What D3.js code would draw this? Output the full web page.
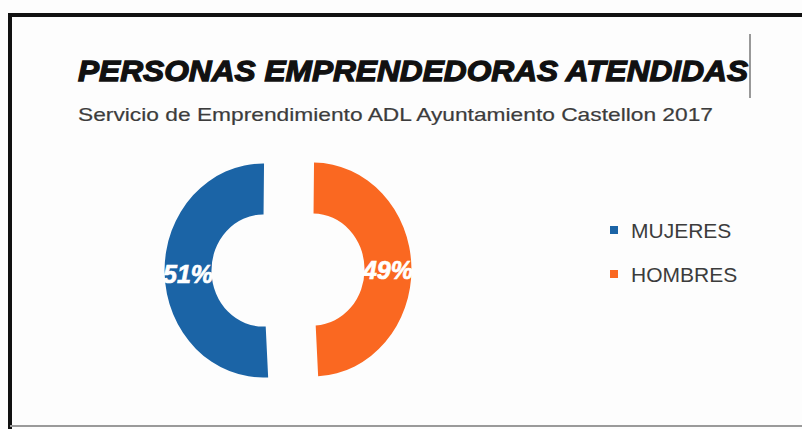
<!DOCTYPE html>
<html>
<head>
<meta charset="utf-8">
<script src="https://cdn.jsdelivr.net/npm/d3@7"></script>
<style>
  body { margin: 0; background: #fff; }
  svg { display: block; }
</style>
</head>
<body>
<svg width="802" height="429"></svg>
<script>
// chart data
var categories = ["MUJERES", "HOMBRES"];
var values = [51, 49];
var colors = ["#1b64a6", "#fa6821"];
var title = "PERSONAS EMPRENDEDORAS ATENDIDAS";
var subtitle = "Servicio de Emprendimiento ADL Ayuntamiento Castellon 2017";

var svg = d3.select("svg"),
    width = +svg.attr("width"),
    height = +svg.attr("height");

svg.append("rect").attr("width", width).attr("height", height).attr("fill", "#fdfdfd");

// frame of the chart area
svg.append("line").attr("x1", 10).attr("y1", 15).attr("x2", width).attr("y2", 15)
    .attr("stroke", "#111").attr("stroke-width", 4);
svg.append("line").attr("x1", 10).attr("y1", 13).attr("x2", 10).attr("y2", height)
    .attr("stroke", "#111").attr("stroke-width", 4);
svg.append("line").attr("x1", 10).attr("y1", 426).attr("x2", width).attr("y2", 426)
    .attr("stroke", "#9a9a9a").attr("stroke-width", 2);

// titles
svg.append("text")
    .attr("x", 78).attr("y", 81)
    .attr("textLength", 670).attr("lengthAdjust", "spacingAndGlyphs")
    .style("font-family", "'Liberation Sans', Arial, sans-serif")
    .style("font-weight", "bold").style("font-style", "italic")
    .style("font-size", "30px")
    .attr("fill", "#111").attr("stroke", "#111").attr("stroke-width", 1.3)
    .text(title);

svg.append("line").attr("x1", 750).attr("y1", 34).attr("x2", 750).attr("y2", 98)
    .attr("stroke", "#777").attr("stroke-width", 1.5);

svg.append("text")
    .attr("x", 78).attr("y", 121)
    .attr("textLength", 635).attr("lengthAdjust", "spacingAndGlyphs")
    .style("font-family", "'Liberation Sans', Arial, sans-serif")
    .style("font-size", "19px")
    .attr("fill", "#3c3c3c").attr("stroke", "#3c3c3c").attr("stroke-width", 0.2)
    .text(subtitle);

// donut (exploded, slightly narrower than tall like the original)
var cx = 288, cy = 270, sx = 0.92, explode = 25;
var total = d3.sum(values);
var start = 177 * Math.PI / 180;

var pie = d3.pie().sort(null).startAngle(start).endAngle(start + 2 * Math.PI);
var arc = d3.arc().innerRadius(56).outerRadius(107);

var slices = svg.append("g").selectAll("g")
    .data(pie(values))
    .enter().append("g")
      .attr("transform", function(d) {
        var mid = (d.startAngle + d.endAngle) / 2;
        return "translate(" + (cx + explode * Math.sin(mid)) + "," + (cy - explode * Math.cos(mid)) + ")";
      });

slices.append("path")
    .attr("transform", "scale(" + sx + ",1)")
    .attr("d", arc)
    .attr("fill", function(d, i) { return colors[i]; });

slices.append("text")
    .attr("x", function(d) { return arc.centroid(d)[0] * sx; })
    .attr("y", function(d) { return arc.centroid(d)[1] + 2; })
    .attr("text-anchor", "middle").attr("dominant-baseline", "central")
    .style("font-family", "'Liberation Sans', Arial, sans-serif")
    .style("font-weight", "bold").style("font-style", "italic")
    .style("font-size", "25px")
    .attr("fill", "#fff").attr("stroke", "#fff").attr("stroke-width", 0.7)
    .text(function(d) { return Math.round(d.data / total * 100) + "%"; });

// legend
var legend = svg.append("g").selectAll("g")
    .data(categories)
    .enter().append("g")
      .attr("transform", function(d, i) { return "translate(610," + (230 + i * 44) + ")"; });

legend.append("rect")
    .attr("x", 0).attr("y", -4).attr("width", 8).attr("height", 8)
    .attr("fill", function(d, i) { return colors[i]; });

legend.append("text")
    .attr("x", 21).attr("y", 0)
    .attr("dominant-baseline", "central")
    .style("font-family", "'Liberation Sans', Arial, sans-serif")
    .style("font-size", "21px")
    .attr("fill", "#3c3c3c")
    .text(function(d) { return d; });
</script>
</body>
</html>
